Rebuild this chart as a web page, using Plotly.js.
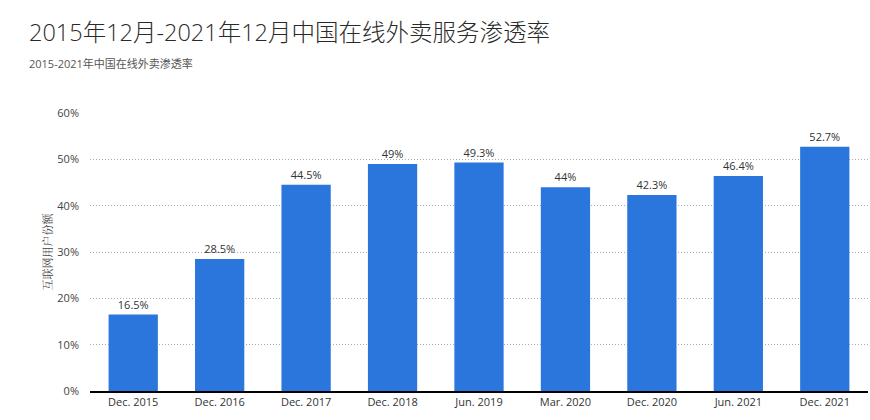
<!DOCTYPE html>
<html><head><meta charset="utf-8">
<script src="https://cdn.plot.ly/plotly-3.0.1.min.js"></script>
<style>body{margin:0;background:#fff}#c{width:870px;height:420px}</style>
</head><body><div id="c"></div>
<script>
var categories = ["Dec. 2015","Dec. 2016","Dec. 2017","Dec. 2018","Jun. 2019","Mar. 2020","Dec. 2020","Jun. 2021","Dec. 2021"];
var values = [16.5, 28.5, 44.5, 49, 49.3, 44, 42.3, 46.4, 52.7];
var tickVals = [0,10,20,30,40,50,60];
var tickText = tickVals.map(function(v){return v+"%";});
var labels = values.map(function(v){return v+"%";});

var trace = {
  type:"bar", x:categories, y:values, text:labels, textposition:"outside",
  textfont:{family:"Open Sans, sans-serif", size:11, color:"#333"},
  marker:{color:"#2a76dd"}, cliponaxis:false, hoverinfo:"none"
};
var layout = {
  width:870, height:420,
  margin:{l:90, r:2, t:113, b:29},
  paper_bgcolor:"#fff", plot_bgcolor:"#fff",
  bargap:0.43,
  font:{family:"Open Sans, sans-serif", size:11, color:"#333"},
  showlegend:false,
  xaxis:{type:"category", showgrid:false, zeroline:false, showline:true, linecolor:"#000", linewidth:2,
    ticks:"", tickfont:{size:11, color:"#333"}, fixedrange:true},
  yaxis:{range:[0,60], tickvals:tickVals, ticktext:tickText, showgrid:true, gridcolor:"#aaa", griddash:"1px,2px", gridwidth:1,
    zeroline:false, showline:false, ticks:"", ticklabelstandoff:10, tickfont:{size:11, color:"#444"},
    title:{text:"互联网用户份额", font:{family:"Noto Serif CJK SC, serif", size:11, color:"#444"}, standoff:2}, fixedrange:true},
  annotations:[
    {text:"2015年12月-2021年12月中国在线外卖服务渗透率", xref:"paper", yref:"paper", x:0, y:1, xshift:-63, yshift:81, xanchor:"left", yanchor:"middle", showarrow:false,
     font:{family:"Open Sans, Noto Sans CJK SC, sans-serif", size:23.5, weight:300, color:"#2a2a2a"}},
    {text:"2015-2021年中国在线外卖渗透率", xref:"paper", yref:"paper", x:0, y:1, xshift:-63, yshift:50, xanchor:"left", yanchor:"middle", showarrow:false,
     font:{family:"Open Sans, Noto Sans CJK SC, sans-serif", size:11, color:"#555"}}
  ]
};
Plotly.newPlot("c",[trace],layout,{displayModeBar:false, staticPlot:true});
</script></body></html>
